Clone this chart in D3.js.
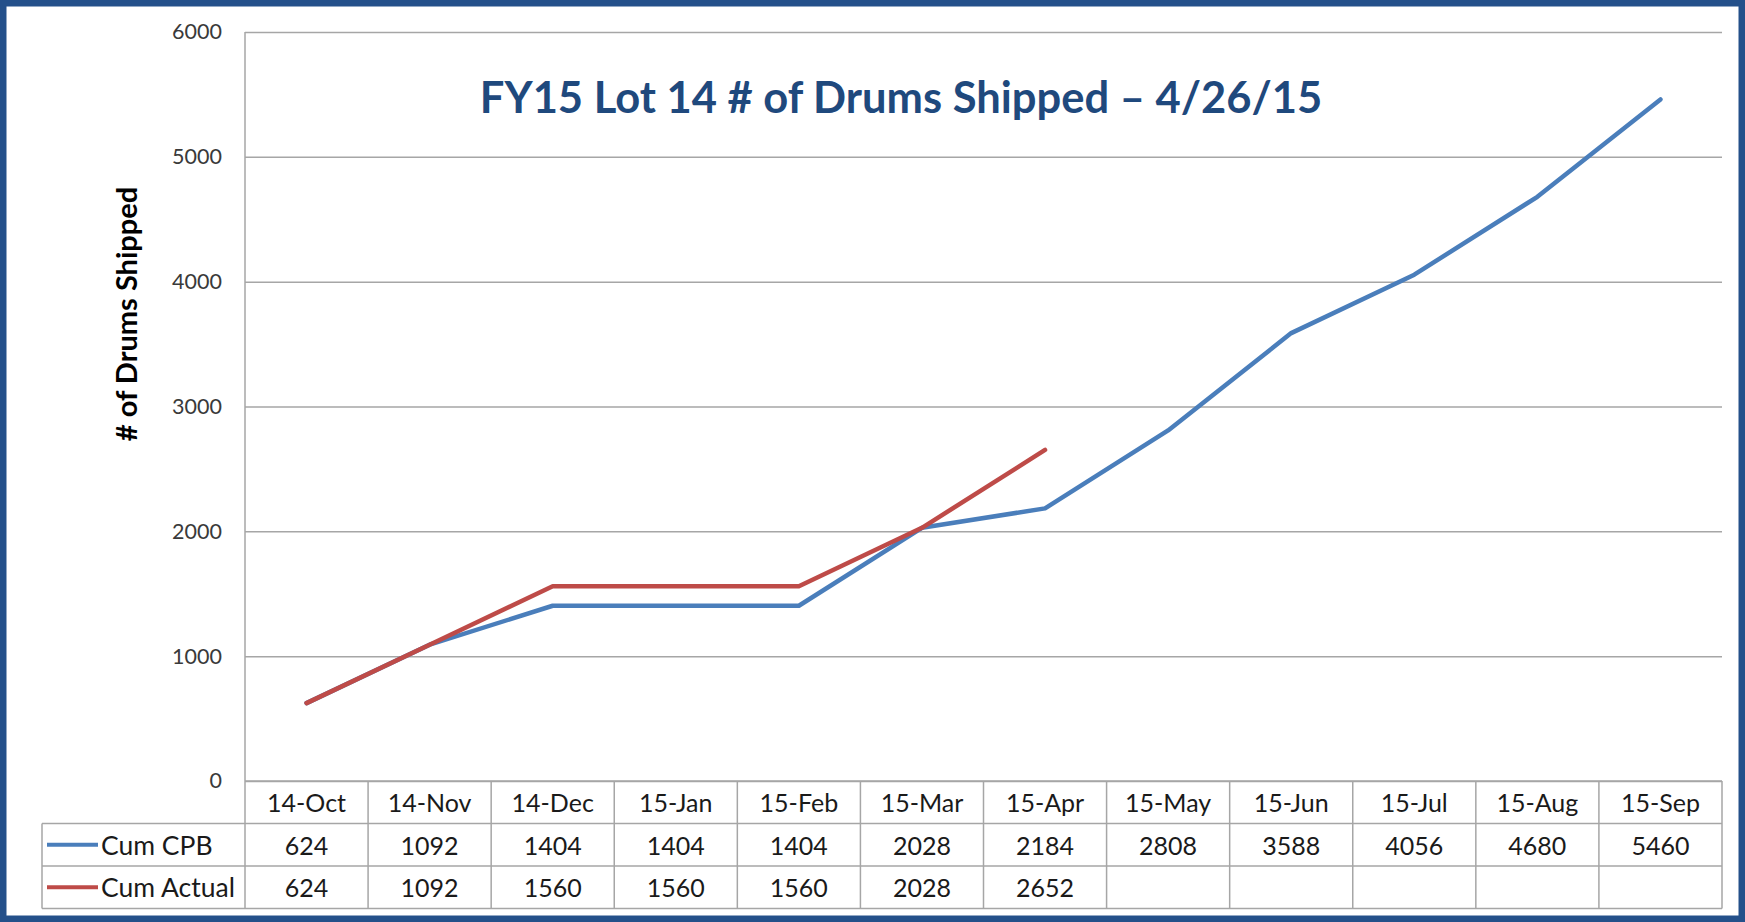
<!DOCTYPE html>
<html>
<head>
<meta charset="utf-8">
<script src="https://cdn.jsdelivr.net/npm/d3@7"></script>
<style>
  body { margin: 0; background: #fff; }
  text { font-family: Lato, "Open Sans", sans-serif; }
</style>
</head>
<body>
<svg id="chart" width="1745" height="922"></svg>
<script>
// data
var months = ["14-Oct", "14-Nov", "14-Dec", "15-Jan", "15-Feb", "15-Mar",
              "15-Apr", "15-May", "15-Jun", "15-Jul", "15-Aug", "15-Sep"];
var cumCPB = [624, 1092, 1404, 1404, 1404, 2028, 2184, 2808, 3588, 4056, 4680, 5460];
var cumActual = [624, 1092, 1560, 1560, 1560, 2028, 2652];
var yTicks = [0, 1000, 2000, 3000, 4000, 5000, 6000];
var seriesNames = ["Cum CPB", "Cum Actual"];
var seriesColors = ["#4a7ebb", "#be4b48"];

var svg = d3.select("svg#chart");
// note: "top" is taken by window.top, so plot edges get a prefix
var plotLeft = 245, plotRight = 1722, plotTop = 32, plotBottom = 781;
var rowH = 42.5, legendLeft = 42;
var gridColor = "#a6a6a6";
var textColor = "#1a1a1a";

// frame
svg.append("rect")
  .attr("x", 3).attr("y", 3)
  .attr("width", 1739).attr("height", 916)
  .attr("fill", "none")
  .attr("stroke", "#24508a")
  .attr("stroke-width", 7);

var x = d3.scaleBand().domain(months).range([plotLeft, plotRight]);
var y = d3.scaleLinear().domain([0, 6000]).range([plotBottom, plotTop]);

// y axis with gridlines
var yAxis = svg.append("g")
  .attr("transform", "translate(" + plotLeft + ",0)")
  .call(d3.axisLeft(y).tickValues(yTicks).tickFormat(d3.format("d"))
    .tickSize(-(plotRight - plotLeft)).tickPadding(23));
yAxis.select(".domain").remove();
yAxis.selectAll(".tick line").attr("stroke", gridColor).attr("stroke-width", 1.5);
yAxis.selectAll(".tick text")
  .attr("font-size", 21.5)
  .attr("fill", "#3a3a3a")
  .attr("font-family", "Lato, sans-serif");

// left edge of plot area, running down through the table
svg.append("line")
  .attr("x1", plotLeft).attr("x2", plotLeft)
  .attr("y1", plotTop).attr("y2", plotBottom + rowH * 3)
  .attr("stroke", gridColor).attr("stroke-width", 1.5);

// title
svg.append("text")
  .attr("x", 901).attr("y", 113)
  .attr("text-anchor", "middle")
  .attr("font-size", 43.5)
  .attr("font-weight", "bold")
  .attr("fill", "#1f497d")
  .text("FY15 Lot 14 # of Drums Shipped \u2013 4/26/15");

// y axis title
svg.append("text")
  .attr("transform", "translate(125,314) rotate(-90)")
  .attr("text-anchor", "middle")
  .attr("dominant-baseline", "central")
  .attr("font-size", 29)
  .attr("font-weight", "bold")
  .attr("fill", "#000")
  .text("# of Drums Shipped");

// lines
var line = d3.line()
  .x(function(d, i) { return x(months[i]) + x.bandwidth() / 2; })
  .y(function(d) { return y(d); });

[cumCPB, cumActual].forEach(function(s, k) {
  svg.append("path")
    .datum(s)
    .attr("d", line)
    .attr("fill", "none")
    .attr("stroke", seriesColors[k])
    .attr("stroke-width", 4.5)
    .attr("stroke-linejoin", "round")
    .attr("stroke-linecap", "round");
});

// data table
var table = svg.append("g");
var rowTop = function(r) { return plotBottom + r * rowH; };

// horizontal rules
table.append("line")
  .attr("x1", plotLeft).attr("x2", plotRight)
  .attr("y1", rowTop(0)).attr("y2", rowTop(0))
  .attr("stroke", gridColor).attr("stroke-width", 1.5);
[1, 2, 3].forEach(function(r) {
  table.append("line")
    .attr("x1", legendLeft).attr("x2", plotRight)
    .attr("y1", rowTop(r)).attr("y2", rowTop(r))
    .attr("stroke", gridColor).attr("stroke-width", 1.5);
});
// vertical rules
months.forEach(function(m) {
  table.append("line")
    .attr("x1", x(m) + x.bandwidth()).attr("x2", x(m) + x.bandwidth())
    .attr("y1", rowTop(0)).attr("y2", rowTop(3))
    .attr("stroke", gridColor).attr("stroke-width", 1.5);
});
table.append("line")
  .attr("x1", legendLeft).attr("x2", legendLeft)
  .attr("y1", rowTop(1)).attr("y2", rowTop(3))
  .attr("stroke", gridColor).attr("stroke-width", 1.5);

// header row
table.selectAll("text.month")
  .data(months)
  .enter()
  .append("text")
  .attr("class", "month")
  .attr("x", function(d) { return x(d) + x.bandwidth() / 2; })
  .attr("y", rowTop(0) + rowH / 2)
  .attr("text-anchor", "middle")
  .attr("dominant-baseline", "central")
  .attr("font-size", 25)
  .attr("fill", textColor)
  .text(function(d) { return d; });

// value rows
[cumCPB, cumActual].forEach(function(s, k) {
  var cy = rowTop(k + 1) + rowH / 2;
  table.append("line")
    .attr("x1", 47).attr("x2", 98)
    .attr("y1", cy).attr("y2", cy)
    .attr("stroke", seriesColors[k]).attr("stroke-width", 4);
  table.append("text")
    .attr("x", 101).attr("y", cy)
    .attr("dominant-baseline", "central")
    .attr("font-size", 26.5)
    .attr("fill", textColor)
    .text(seriesNames[k]);
  table.selectAll("text.v" + k)
    .data(s)
    .enter()
    .append("text")
    .attr("class", "v" + k)
    .attr("x", function(d, i) { return x(months[i]) + x.bandwidth() / 2; })
    .attr("y", cy)
    .attr("text-anchor", "middle")
    .attr("dominant-baseline", "central")
    .attr("font-size", 25)
    .attr("fill", textColor)
    .text(function(d) { return d; });
});
</script>
</body>
</html>
